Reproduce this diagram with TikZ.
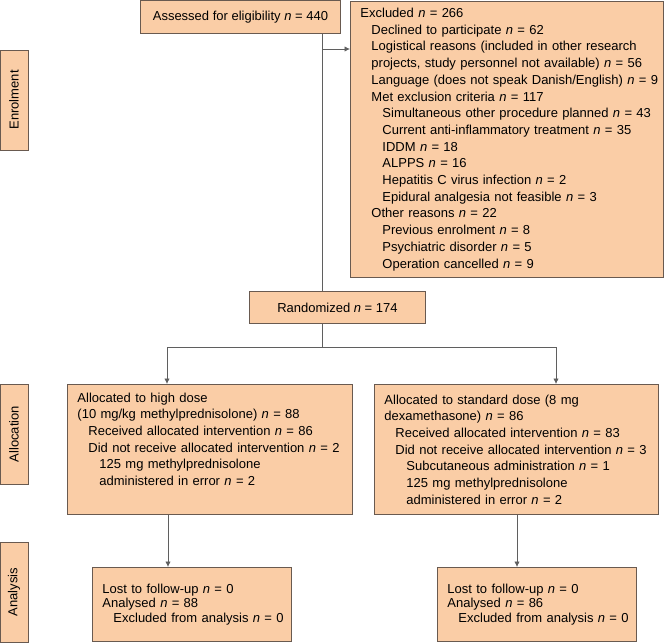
\documentclass[tikz,border=0pt]{standalone}
\usepackage{fontspec}
\setmainfont{Liberation Sans}
\usepackage{xcolor}
\usetikzlibrary{positioning, arrows.meta}
\definecolor{boxfill}{RGB}{250,205,166}
\definecolor{boxedge}{RGB}{105,90,80}
\definecolor{linkgray}{RGB}{95,95,95}
\newcommand{\nn}{\textit{n}}
\newcommand{\pa}{\hspace*{10pt}}
\newcommand{\pb}{\hspace*{21pt}}
\newcommand{\pc}{\hspace*{32pt}}

\begin{document}
\begin{tikzpicture}[x=1pt, y=-1pt,
  flowbox/.style={draw=boxedge, fill=boxfill, line width=0.9pt, anchor=north west, inner sep=0pt, align=left, font=\fontsize{13}{16.7}\selectfont},
  stagebox/.style={draw=boxedge, fill=boxfill, line width=0.9pt, minimum width=100pt, minimum height=28pt, inner sep=0pt, rotate=90, font=\fontsize{13}{16}\selectfont},
  link/.style={draw=linkgray, line width=0.8pt},
  tip/.style={-{Latex[length=5.5pt,width=5.5pt]}}]
\useasboundingbox (0,0) rectangle (668,642);
% stage labels on the left
\node[stagebox] (enrol) at (14,100) {Enrolment};
\node[stagebox] (alloc) at (14,434) {Allocation};
\node[stagebox] (anal) at (14,592) {Analysis};
% enrolment
\node[flowbox, align=center, minimum width=200pt, minimum height=33pt] (assessed) at (140,0.5) {Assessed for eligibility \nn{} = 440};
\node[flowbox, text width=313pt, minimum height=276pt] (excluded) at (350,1) {%
\pa Excluded \nn{} = 266\\
\pb Declined to participate \nn{} = 62\\
\pb Logistical reasons (included in other research\\
\pb projects, study personnel not available) \nn{} = 56\\
\pb Language (does not speak Danish/English) \nn{} = 9\\
\pb Met exclusion criteria \nn{} = 117\\
\pc Simultaneous other procedure planned \nn{} = 43\\
\pc Current anti-inflammatory treatment \nn{} = 35\\
\pc IDDM \nn{} = 18\\
\pc ALPPS \nn{} = 16\\
\pc Hepatitis C virus infection \nn{} = 2\\
\pc Epidural analgesia not feasible \nn{} = 3\\
\pb Other reasons \nn{} = 22\\
\pc Previous enrolment \nn{} = 8\\
\pc Psychiatric disorder \nn{} = 5\\
\pc Operation cancelled \nn{} = 9};
\node[flowbox, align=center, minimum width=176pt, minimum height=32pt] (randomized) at (249,291) {Randomized \nn{} = 174};
% allocation
\node[flowbox, text width=285pt, minimum height=130pt, text depth=104pt] (highdose) at (67,384) {%
\pa Allocated to high dose\\
\pa (10 mg/kg methylprednisolone) \nn{} = 88\\
\pb Received allocated intervention \nn{} = 86\\
\pb Did not receive allocated intervention \nn{} = 2\\
\pc 125 mg methylprednisolone\\
\pc administered in error \nn{} = 2};
\node[flowbox, text width=284pt, minimum height=130pt] (stddose) at (374,384) {%
\pa Allocated to standard dose (8 mg\\
\pa dexamethasone) \nn{} = 86\\
\pb Received allocated intervention \nn{} = 83\\
\pb Did not receive allocated intervention \nn{} = 3\\
\pc Subcutaneous administration \nn{} = 1\\
\pc 125 mg methylprednisolone\\
\pc administered in error \nn{} = 2};
% analysis
\node[flowbox, text width=199pt, minimum height=74pt, font=\fontsize{13}{14.5}\selectfont] (analyseda) at (92,567) {%
\pa Lost to follow-up \nn{} = 0\\
\pa Analysed \nn{} = 88\\
\pb Excluded from analysis \nn{} = 0};
\node[flowbox, text width=199pt, minimum height=74pt, font=\fontsize{13}{14.5}\selectfont] (analysedb) at (437,567) {%
\pa Lost to follow-up \nn{} = 0\\
\pa Analysed \nn{} = 86\\
\pb Excluded from analysis \nn{} = 0};
% connectors
\coordinate (excl) at (322,49);
\coordinate (split) at (322,347);
\coordinate (splitl) at (167,347);
\coordinate (splitr) at (556,347);
\coordinate (dropl) at (168,540);
\coordinate (dropr) at (517,540);
\draw[link] (assessed.south -| excl) -- (randomized.north -| excl);
\draw[link,tip] (excl) -- (excluded.west |- excl);
\draw[link] (randomized.south -| split) -- (split);
\draw[link,tip] (split) -- (splitl) -- (highdose.north -| splitl);
\draw[link,tip] (split) -- (splitr) -- (stddose.north -| splitr);
\draw[link,tip] (highdose.south -| dropl) -- (analyseda.north -| dropl);
\draw[link,tip] (stddose.south -| dropr) -- (analysedb.north -| dropr);
\end{tikzpicture}
\end{document}
